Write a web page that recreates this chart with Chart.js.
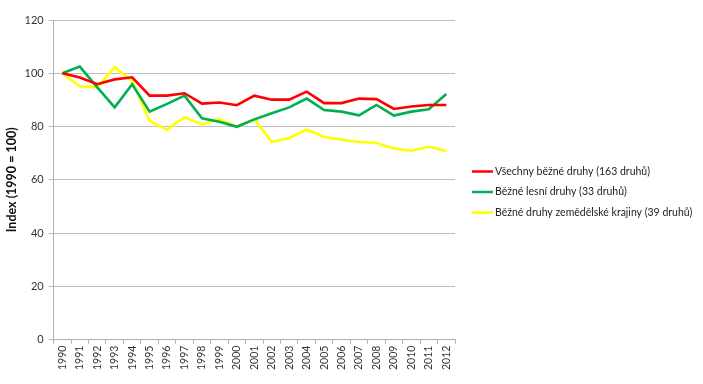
<!DOCTYPE html>
<html>
<head>
<meta charset="utf-8">
<script src="https://cdn.jsdelivr.net/npm/chart.js@4.4.0/dist/chart.umd.min.js"></script>
<style>
html,body{margin:0;padding:0;background:#fff;}
#wrap{position:relative;width:703px;height:384px;}
</style>
</head>
<body>
<div id="wrap"><canvas id="c" width="703" height="384"></canvas></div>
<script>
const years = ['1990','1991','1992','1993','1994','1995','1996','1997','1998','1999','2000','2001','2002','2003','2004','2005','2006','2007','2008','2009','2010','2011','2012'];
const allSpecies = [100,98.4,95.9,97.7,98.5,91.6,91.6,92.5,88.6,89.0,88.0,91.6,90.1,90.1,93.1,88.8,88.8,90.5,90.3,86.6,87.5,88.1,88.1];
const forestSpecies = [100,102.5,94.7,87.2,95.9,85.6,88.5,91.6,83.1,81.8,79.9,82.7,85.0,87.2,90.5,86.2,85.6,84.2,88.1,84.1,85.6,86.5,92.2];
const farmlandSpecies = [100,95.1,94.7,102.3,97.1,82.1,78.8,83.5,80.8,82.8,79.9,82.8,74.2,75.7,78.9,76.1,75.1,74.2,73.8,71.8,70.9,72.4,70.8];
const seriesLabels = ['Všechny běžné druhy (163 druhů)','Běžné lesní druhy (33 druhů)','Běžné druhy zemědělské krajiny (39 druhů)'];
const yTicks = [0,20,40,60,80,100,120];
const yTitle = 'Index (1990 = 100)';

const FONT = 'Lato, "Liberation Sans", sans-serif';

const legendPlugin = {
  id: 'sideLegend',
  afterDraw(chart) {
    const ctx = chart.ctx;
    const area = chart.chartArea;
    const x0 = area.right + 17;
    const y0 = 171.5;
    const gap = 20.5;
    ctx.save();
    ctx.font = '10.5px ' + FONT;
    ctx.textBaseline = 'middle';
    ctx.textAlign = 'left';
    chart.data.datasets.forEach((ds, i) => {
      const y = y0 + i * gap;
      ctx.strokeStyle = ds.borderColor;
      ctx.lineWidth = 2.5;
      ctx.beginPath();
      ctx.moveTo(x0, y);
      ctx.lineTo(x0 + 21, y);
      ctx.stroke();
      ctx.fillStyle = '#222';
      ctx.fillText(ds.label, x0 + 23, y);
    });
    ctx.restore();
  }
};

new Chart(document.getElementById('c'), {
  type: 'line',
  data: {
    labels: years,
    datasets: [
      {label: seriesLabels[0], data: allSpecies, borderColor: '#ff0000', backgroundColor: '#ff0000'},
      {label: seriesLabels[1], data: forestSpecies, borderColor: '#00b050', backgroundColor: '#00b050'},
      {label: seriesLabels[2], data: farmlandSpecies, borderColor: '#ffff00', backgroundColor: '#ffff00'}
    ]
  },
  options: {
    responsive: false,
    animation: false,
    devicePixelRatio: 1,
    elements: {
      line: {borderWidth: 2.6, tension: 0, borderJoinStyle: 'miter'},
      point: {radius: 0, hoverRadius: 0}
    },
    layout: {padding: {left: 6, right: 248, top: 20, bottom: 12}},
    plugins: {legend: {display: false}, tooltip: {enabled: false}},
    scales: {
      x: {
        offset: true,
        grid: {display: true, offset: true, drawOnChartArea: false, drawTicks: true, tickLength: 4, color: '#b0b0b0'},
        border: {display: true, color: '#b0b0b0'},
        ticks: {minRotation: 90, maxRotation: 90, autoSkip: false, color: '#333', font: {family: FONT, size: 10.5}, padding: 2}
      },
      y: {
        min: 0, max: 120,
        afterBuildTicks(axis) { axis.ticks = yTicks.map(v => ({value: v})); },
        grid: {color: '#c0c0c0', lineWidth: 1, tickLength: 5, drawTicks: true},
        border: {display: true, color: '#b0b0b0'},
        ticks: {color: '#333', font: {family: FONT, size: 11}, padding: 5},
        title: {display: true, text: yTitle, color: '#111', font: {family: FONT, size: 12.5, weight: 'bold', lineHeight: 1}, padding: {top: 0, bottom: 1}}
      }
    }
  },
  plugins: [legendPlugin]
});
</script>
</body>
</html>
